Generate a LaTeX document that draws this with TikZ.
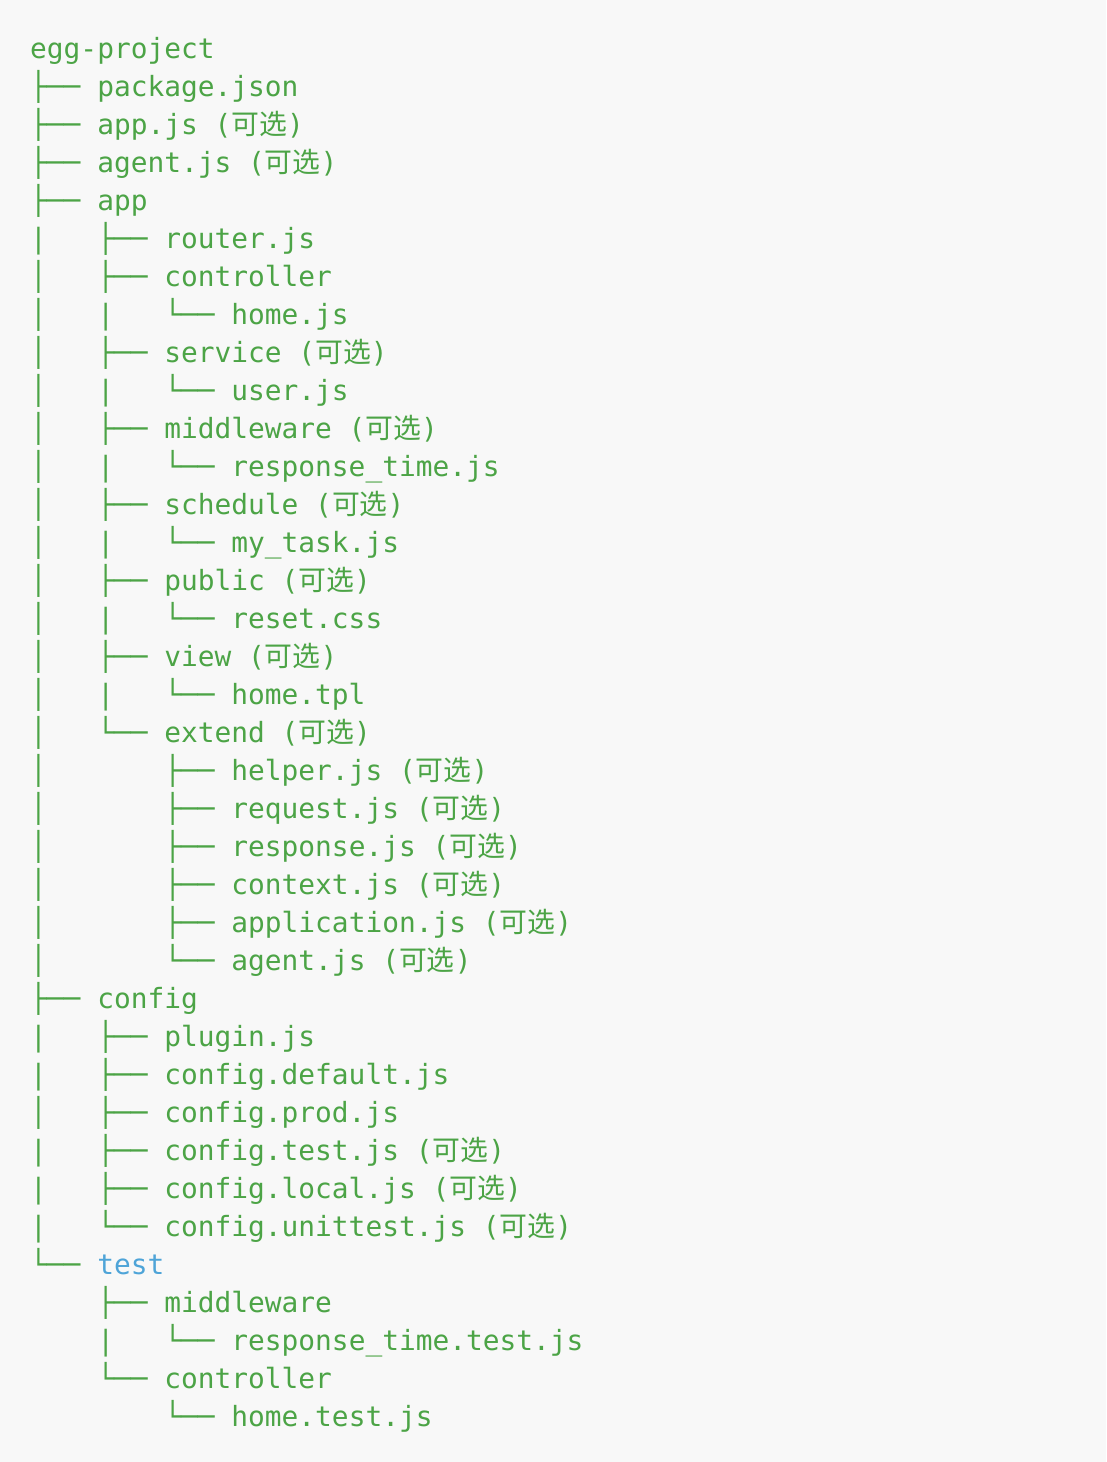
\documentclass[tikz,border=0pt]{standalone}
\usepackage{fontspec}
\usepackage{xcolor}
\newfontfamily\codefont{DejaVu Sans Mono}
\newfontfamily\cjkfont{Noto Sans CJK SC}
\definecolor{codebg}{HTML}{F8F8F8}
\definecolor{codegreen}{RGB}{76,164,70}
\definecolor{codeblue}{RGB}{78,164,216}
\newcommand{\opt}{\ ({\cjkfont 可选})}

\begin{document}
\begin{tikzpicture}[x=1pt,y=1pt,
    row/.style={anchor=base west,inner sep=0pt,text=codegreen,
      font=\codefont\fontsize{27.85}{38}\selectfont}]
      \fill[codebg] (0,0) rectangle (1106,-1462);

      % top level
      \node[row] (root) at (30,-58) {egg-project};
      \node[row] (pkg) at (30,-96) {├──\ package.json};
      \node[row] (appjs) at (30,-134) {├──\ app.js\opt};
      \node[row] (agentjs) at (30,-172) {├──\ agent.js\opt};
      \node[row] (app) at (30,-210) {├──\ app};

      % app
      \node[row] (router) at (30,-248) {|\ \ \ ├──\ router.js};
      \node[row] (ctrl) at (30,-286) {│\ \ \ ├──\ controller};
      \node[row] (home) at (30,-324) {│\ \ \ |\ \ \ └──\ home.js};
      \node[row] (svc) at (30,-362) {│\ \ \ ├──\ service\opt};
      \node[row] (user) at (30,-400) {│\ \ \ |\ \ \ └──\ user.js};
      \node[row] (mw) at (30,-438) {│\ \ \ ├──\ middleware\opt};
      \node[row] (rtime) at (30,-476) {│\ \ \ |\ \ \ └──\ response\_time.js};
      \node[row] (sched) at (30,-514) {│\ \ \ ├──\ schedule\opt};
      \node[row] (task) at (30,-552) {│\ \ \ |\ \ \ └──\ my\_task.js};
      \node[row] (pub) at (30,-590) {│\ \ \ ├──\ public\opt};
      \node[row] (css) at (30,-628) {│\ \ \ |\ \ \ └──\ reset.css};
      \node[row] (view) at (30,-666) {│\ \ \ ├──\ view\opt};
      \node[row] (tpl) at (30,-704) {│\ \ \ |\ \ \ └──\ home.tpl};
      \node[row] (ext) at (30,-742) {│\ \ \ └──\ extend\opt};
      \node[row] (helper) at (30,-780) {│\ \ \ \ \ \ \ ├──\ helper.js\opt};
      \node[row] (req) at (30,-818) {│\ \ \ \ \ \ \ ├──\ request.js\opt};
      \node[row] (res) at (30,-856) {│\ \ \ \ \ \ \ ├──\ response.js\opt};
      \node[row] (ctx) at (30,-894) {│\ \ \ \ \ \ \ ├──\ context.js\opt};
      \node[row] (appl) at (30,-932) {│\ \ \ \ \ \ \ ├──\ application.js\opt};
      \node[row] (agent) at (30,-970) {│\ \ \ \ \ \ \ └──\ agent.js\opt};

      % config
      \node[row] (cfg) at (30,-1008) {├──\ config};
      \node[row] (plugin) at (30,-1046) {|\ \ \ ├──\ plugin.js};
      \node[row] (cdef) at (30,-1084) {|\ \ \ ├──\ config.default.js};
      \node[row] (cprod) at (30,-1122) {│\ \ \ ├──\ config.prod.js};
      \node[row] (ctest) at (30,-1160) {|\ \ \ ├──\ config.test.js\opt};
      \node[row] (clocal) at (30,-1198) {|\ \ \ ├──\ config.local.js\opt};
      \node[row] (cunit) at (30,-1236) {|\ \ \ └──\ config.unittest.js\opt};

      % test
      \node[row] (test) at (30,-1274) {└──\ \textcolor{codeblue}{test}};
      \node[row] (tmw) at (30,-1312) {\ \ \ \ ├──\ middleware};
      \node[row] (trtime) at (30,-1350) {\ \ \ \ |\ \ \ └──\ response\_time.test.js};
      \node[row] (tctrl) at (30,-1388) {\ \ \ \ └──\ controller};
      \node[row] (thome) at (30,-1426) {\ \ \ \ \ \ \ \ └──\ home.test.js};
\end{tikzpicture}
\end{document}
